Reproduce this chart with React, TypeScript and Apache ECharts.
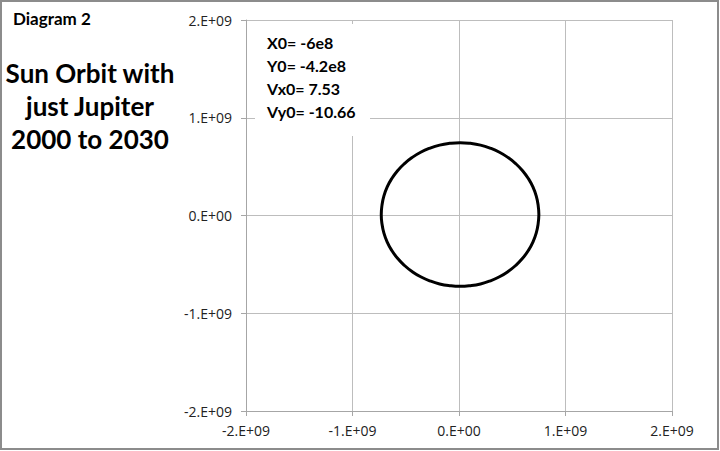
import React, { useEffect, useRef } from "react";
import * as echarts from "echarts";

// Sun orbit points, in units of 1e9 m
const orbitX = [
  0.75, 0.743, 0.725, 0.694, 0.651, 0.597, 0.533, 0.461, 0.38, 0.293, 0.202, 0.107,
  0.01, -0.087, -0.182, -0.273, -0.36, -0.441, -0.513, -0.577, -0.631, -0.674, -0.705, -0.723,
  -0.73, -0.723, -0.705, -0.674, -0.631, -0.577, -0.513, -0.441, -0.36, -0.273, -0.182, -0.087,
  0.01, 0.107, 0.202, 0.293, 0.38, 0.461, 0.533, 0.597, 0.651, 0.694, 0.725, 0.743, 0.75,
];
const orbitY = [
  0.01, 0.106, 0.2, 0.292, 0.378, 0.458, 0.53, 0.593, 0.647, 0.689, 0.72, 0.738,
  0.745, 0.738, 0.72, 0.689, 0.647, 0.593, 0.53, 0.458, 0.378, 0.292, 0.2, 0.106,
  0.01, -0.086, -0.18, -0.272, -0.358, -0.438, -0.51, -0.573, -0.627, -0.669, -0.7, -0.718,
  -0.725, -0.718, -0.7, -0.669, -0.627, -0.573, -0.51, -0.438, -0.358, -0.272, -0.18, -0.086, 0.01,
];
const titleLines = ["Sun Orbit with", "just Jupiter", "2000 to 2030"];
const diagramLabel = "Diagram 2";
const initLines = ["X0= -6e8", "Y0= -4.2e8", "Vx0= 7.53", "Vy0= -10.66"];
const axisMin = -2;
const axisMax = 2;
const axisStep = 1;

const fmt = (v: number) => (v === 0 ? "0.E+00" : `${Math.round(v)}.E+09`);

export default function App() {
  const ref = useRef<HTMLDivElement>(null);
  useEffect(() => {
    if (!ref.current) return;
    const chart = echarts.init(ref.current, null, { renderer: "svg" });
    const font = "Lato, 'Open Sans', sans-serif";
    const axisCommon = {
      type: "value" as const,
      min: axisMin,
      max: axisMax,
      interval: axisStep,
      axisLine: { show: true, onZero: false, lineStyle: { color: "#a6a6a6", width: 1 } },
      axisTick: { show: true, inside: false, length: 5, lineStyle: { color: "#a6a6a6" } },
      splitLine: { show: true, lineStyle: { color: "#bdbdbd", width: 1 } },
      axisLabel: { formatter: fmt, color: "#222", fontSize: 14, fontFamily: "'Open Sans', Lato, sans-serif" },
    };
    chart.setOption({
      animation: false,
      grid: { left: 246, right: 48, top: 20, bottom: 40, containLabel: false },
      xAxis: { ...axisCommon, axisLabel: { ...axisCommon.axisLabel, margin: 12 } },
      yAxis: { ...axisCommon, axisLabel: { ...axisCommon.axisLabel, margin: 14 } },
      series: [
        {
          type: "line",
          data: orbitX.map((x, i) => [x, orbitY[i]]),
          smooth: true,
          showSymbol: false,
          lineStyle: { color: "#000", width: 3 },
        },
      ],
      graphic: [
        {
          type: "rect",
          z: 10,
          shape: { x: 1, y: 1, width: 717, height: 448 },
          style: { fill: "none", stroke: "#8c8c8c", lineWidth: 2 },
        },
        {
          type: "text",
          z: 10,
          x: 13,
          y: 10,
          style: { text: diagramLabel, font: `bold 17px ${font}`, fill: "#000" },
        },
        ...titleLines.map((t, i) => ({
          type: "text",
          z: 10,
          x: 90,
          y: 60 + i * 33,
          style: { text: t, font: `bold 26px ${font}`, fill: "#000", textAlign: "center" },
        })),
        {
          type: "rect",
          z: 10,
          shape: { x: 255, y: 24, width: 115, height: 112 },
          style: { fill: "#fff" },
        },
        ...initLines.map((t, i) => ({
          type: "text",
          z: 11,
          x: 267,
          y: 34 + i * 23,
          style: { text: t, font: `bold 16px ${font}`, fill: "#000" },
        })),
      ],
    });
    return () => chart.dispose();
  }, []);
  return (
    <div
      ref={ref}
      style={{ position: "fixed", left: 0, top: 0, width: 720, height: 451, background: "#fff" }}
    />
  );
}
